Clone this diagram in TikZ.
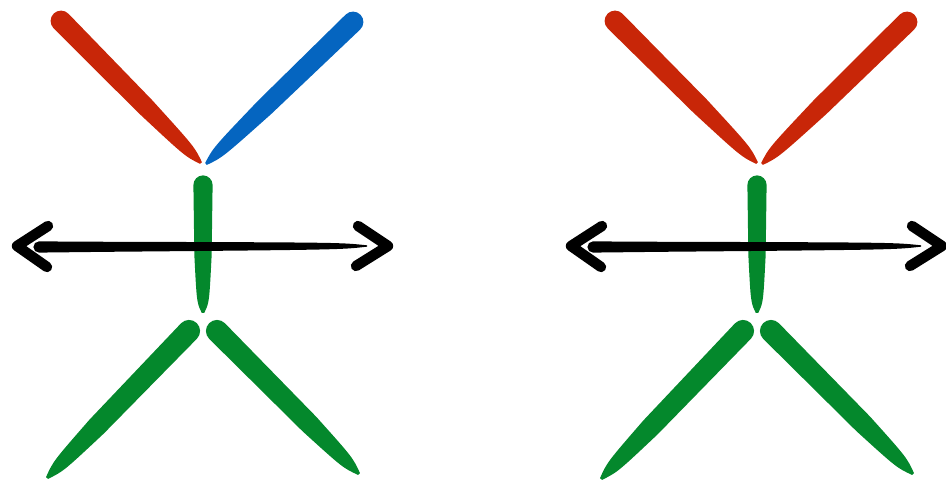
\documentclass[tikz,border=0pt]{standalone}
\usetikzlibrary{calc}
\definecolor{brushred}{RGB}{200,38,8}
\definecolor{brushblue}{RGB}{5,101,192}
\definecolor{brushgreen}{RGB}{4,136,44}
% #1 taper start, #2 colour, #3 round end, #4 tip, #5 half width
\newcommand\brushstroke[5][0.6]{%
  \fill[#2] let \p1=($(#4)-(#3)$), \n1={atan2(\y1,\x1)} in
    ($(#3)+({\n1+90}:#5)$) arc[start angle=\n1+90, end angle=\n1+270, radius=#5]
    -- ($(#3)!#1!(#4)+({\n1-90}:{0.9*#5})$)
    .. controls ($(#3)!0.92!(#4)+({\n1-90}:{0.65*#5})$) .. ($(#4)+({\n1-90}:{0.12*#5})$)
    -- ($(#4)+({\n1+90}:{0.12*#5})$)
    .. controls ($(#3)!0.92!(#4)+({\n1+90}:{0.65*#5})$) .. ($(#3)!#1!(#4)+({\n1+90}:{0.9*#5})$)
    -- cycle;}
\tikzset{
  chevron/.style={draw=black, line width=7.8pt, line cap=round, line join=round},
}
\begin{document}
\begin{tikzpicture}[x=0.75pt,y=-0.75pt]
  \useasboundingbox (0,0) rectangle (946,484);
  %% left figure
  \coordinate (lRedA) at (61,21);    \coordinate (lRedB) at (201,163);
  \coordinate (lBlueA) at (353,22);  \coordinate (lBlueB) at (206,164);
  \coordinate (lBodyA) at (203,185); \coordinate (lBodyB) at (203,313);
  \coordinate (lLegLA) at (189,331); \coordinate (lLegLB) at (47,478);
  \coordinate (lLegRA) at (217,331); \coordinate (lLegRB) at (359,474);
  \coordinate (lAxisA) at (39,247);  \coordinate (lAxisB) at (367,246);
  \coordinate (lTipL) at (17,246);   \coordinate (lTipR) at (388,246);
  %% right figure
  \coordinate (rRedA) at (615,21);   \coordinate (rRedB) at (757,163);
  \coordinate (rRed2A) at (907,22);  \coordinate (rRed2B) at (762,164);
  \coordinate (rBodyA) at (757,185); \coordinate (rBodyB) at (757,313);
  \coordinate (rLegLA) at (743,331); \coordinate (rLegLB) at (601,479);
  \coordinate (rLegRA) at (771,331); \coordinate (rLegRB) at (913,474);
  \coordinate (rAxisA) at (593,247); \coordinate (rAxisB) at (921,246);
  \coordinate (rTipL) at (571,246);  \coordinate (rTipR) at (942,246);

  % arms
  \brushstroke{brushred}{lRedA}{lRedB}{7.8pt}
  \brushstroke{brushblue}{lBlueA}{lBlueB}{7.8pt}
  \brushstroke{brushred}{rRedA}{rRedB}{7.8pt}
  \brushstroke{brushred}{rRed2A}{rRed2B}{7.8pt}
  % body and legs
  \brushstroke[0.55]{brushgreen}{lBodyA}{lBodyB}{7.2pt}
  \brushstroke[0.65]{brushgreen}{lLegLA}{lLegLB}{8.3pt}
  \brushstroke[0.65]{brushgreen}{lLegRA}{lLegRB}{8.3pt}
  \brushstroke[0.55]{brushgreen}{rBodyA}{rBodyB}{7.2pt}
  \brushstroke[0.65]{brushgreen}{rLegLA}{rLegLB}{8.3pt}
  \brushstroke[0.65]{brushgreen}{rLegRA}{rLegRB}{8.3pt}
  % double arrows
  \brushstroke[0.2]{black}{lAxisA}{lAxisB}{4.2pt}
  \brushstroke[0.2]{black}{rAxisA}{rAxisB}{4.2pt}
  \draw[chevron] ($(lTipL)+(31,-20)$) -- (lTipL) -- ($(lTipL)+(30,21)$);
  \draw[chevron] ($(lTipR)+(-30,-20)$) -- (lTipR) -- ($(lTipR)+(-32,20)$);
  \draw[chevron] ($(rTipL)+(31,-20)$) -- (rTipL) -- ($(rTipL)+(30,21)$);
  \draw[chevron] ($(rTipR)+(-30,-20)$) -- (rTipR) -- ($(rTipR)+(-32,20)$);
\end{tikzpicture}
\end{document}
